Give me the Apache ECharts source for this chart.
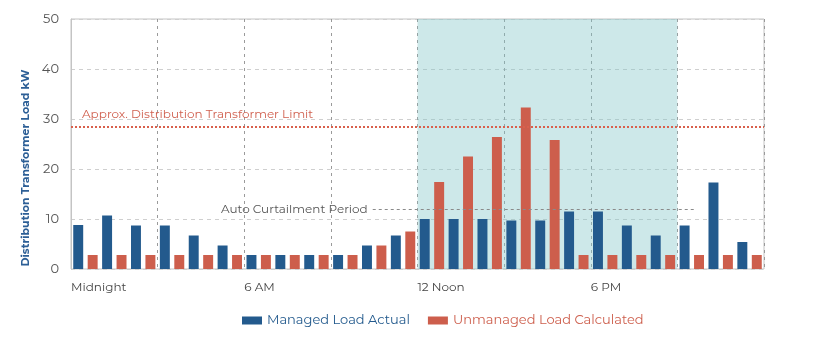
<!DOCTYPE html>
<html>
<head>
<meta charset="utf-8">
<script src="https://cdn.jsdelivr.net/npm/echarts@6/dist/echarts.min.js"></script>
<style>
  html, body { margin: 0; padding: 0; background: #fff; }
  #loadChart { width: 820px; height: 351px; }
</style>
</head>
<body>
<div id="loadChart"></div>
<script>
// one category per hour of the day
const hours = ['0', '1', '2', '3', '4', '5', '6', '7', '8', '9', '10', '11',
  '12', '13', '14', '15', '16', '17', '18', '19', '20', '21', '22', '23']
const managedLoad = [8.8, 10.7, 8.7, 8.7, 6.7, 4.7, 2.8, 2.8, 2.8, 2.8, 4.7, 6.7,
  10.0, 10.0, 10.0, 9.7, 9.7, 11.5, 11.5, 8.7, 6.7, 8.7, 17.3, 5.4]
const unmanagedLoad = [2.8, 2.8, 2.8, 2.8, 2.8, 2.8, 2.8, 2.8, 2.8, 2.8, 4.7, 7.5,
  17.4, 22.5, 26.4, 32.3, 25.8, 2.8, 2.8, 2.8, 2.8, 2.8, 2.8, 2.8]
// labels on the hour axis, keyed by hour
const hourTickLabels = { 0: 'Midnight', 6: '6 AM', 12: '12 Noon', 18: '6 PM' }
const transformerLimit = 28.5
const curtailStart = 12
const curtailEnd = 21
const curtailLineFrom = 10.45
const curtailLineTo = 21.6
const curtailLineLevel = 12

const blue = '#235a8d'
const red = '#cd5e4c'
const font = 'Montserrat, "Open Sans", sans-serif'

const myChart = echarts.init(document.getElementById('loadChart'))

const option = {
  animation: false,
  textStyle: { fontFamily: font },
  grid: {
    left: 71,
    right: 56,
    top: 19,
    bottom: 82,
    show: true,
    borderColor: '#c4c4c4',
    borderWidth: 1
  },
  legend: {
    left: 237,
    top: 309,
    itemWidth: 20,
    itemHeight: 8,
    itemGap: 18,
    icon: 'rect',
    textStyle: { fontSize: 13, fontFamily: font },
    data: [
      { name: 'Managed Load Actual', textStyle: { color: blue } },
      { name: 'Unmanaged Load Calculated', textStyle: { color: red } }
    ]
  },
  xAxis: [
    {
      type: 'category',
      data: hours,
      axisLine: { show: false },
      axisTick: { show: false },
      axisLabel: { show: false },
      splitLine: { show: false }
    },
    {
      type: 'value',
      min: 0,
      max: 24,
      interval: 3,
      position: 'bottom',
      axisLine: { show: false },
      axisTick: { show: false },
      axisLabel: {
        align: 'left',
        margin: 12,
        color: '#444',
        fontSize: 12,
        formatter: function (value) {
          return hourTickLabels[value] || ''
        }
      },
      splitLine: {
        show: true,
        lineStyle: { color: '#9a9a9a', type: [3, 4], width: 1 }
      }
    }
  ],
  yAxis: {
    type: 'value',
    min: 0,
    max: 50,
    interval: 10,
    name: 'Distribution Transformer Load kW',
    nameLocation: 'middle',
    nameGap: 33,
    nameTextStyle: {
      color: '#2d5f96',
      fontSize: 11,
      fontWeight: 'bold',
      padding: [0, 48, 0, 0]
    },
    axisLine: { show: true, lineStyle: { color: '#c4c4c4' } },
    axisTick: { show: false },
    axisLabel: { color: '#555', fontSize: 13, margin: 12 },
    splitLine: {
      lineStyle: { color: '#cfcfcf', type: [4, 4] }
    }
  },
  series: [
    {
      name: 'curtailment',
      type: 'line',
      xAxisIndex: 1,
      data: [],
      z: 1,
      silent: true,
      markArea: {
        silent: true,
        itemStyle: { color: 'rgba(130, 198, 200, 0.4)' },
        data: [[{ xAxis: curtailStart, y: 19 }, { xAxis: curtailEnd, y: 269 }]]
      },
      markLine: {
        silent: true,
        symbol: 'none',
        lineStyle: { color: '#8a8a8a', type: [3, 3], width: 1 },
        label: {
          position: 'start',
          distance: 5,
          color: '#555',
          fontSize: 12,
          fontFamily: font
        },
        data: [[
          { coord: [curtailLineFrom, curtailLineLevel], name: 'Auto Curtailment Period' },
          { coord: [curtailLineTo, curtailLineLevel] }
        ]],
        emphasis: { disabled: true }
      }
    },
    {
      name: 'Managed Load Actual',
      type: 'bar',
      data: managedLoad,
      z: 3,
      barGap: '45%',
      barCategoryGap: '15.5%',
      itemStyle: { color: blue }
    },
    {
      name: 'Unmanaged Load Calculated',
      type: 'bar',
      data: unmanagedLoad,
      z: 3,
      itemStyle: { color: red },
      markLine: {
        silent: true,
        symbol: 'none',
        lineStyle: { color: '#d9604c', type: 'dotted', width: 2 },
        label: {
          position: 'insideStartTop',
          formatter: 'Approx. Distribution Transformer Limit',
          color: '#d0604f',
          fontSize: 12,
          distance: [11, 6],
          fontFamily: font
        },
        data: [{ yAxis: transformerLimit }]
      }
    }
  ]
}

myChart.setOption(option)
</script>
</body>
</html>
